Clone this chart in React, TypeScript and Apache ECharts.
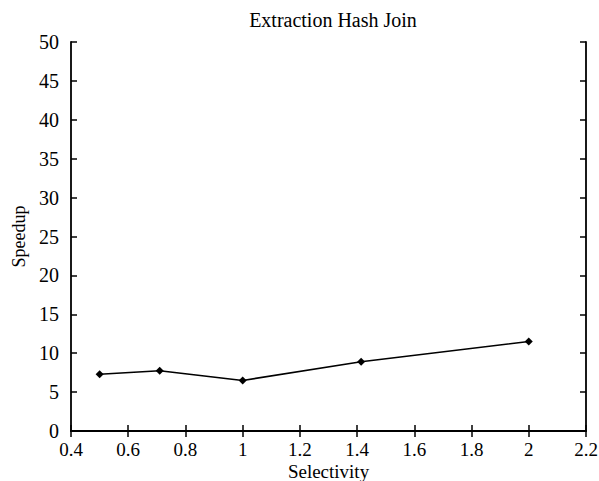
import React, { useEffect, useRef } from "react";
import * as echarts from "echarts";

const selectivity = [0.5, 0.71, 1.0, 1.414, 2.0];
const speedup = [7.3, 7.75, 6.5, 8.9, 11.5];
const titleText = "Extraction Hash Join";
const xName = "Selectivity";
const yName = "Speedup";

const FONT = "'Liberation Serif', 'DejaVu Serif', serif";

export default function App() {
  const ref = useRef<HTMLDivElement>(null);
  useEffect(() => {
    const chart = echarts.init(ref.current!, null, { renderer: "svg" });
    const fmt = (v: number) => String(+v.toFixed(1));
    const axisLine = { show: true, lineStyle: { color: "#000", width: 1.8 } };
    const axisTick = { show: true, inside: true, length: 6, lineStyle: { color: "#000", width: 1.5 } };
    chart.setOption({
      animation: false,
      backgroundColor: "#fff",
      title: {
        text: titleText,
        left: 328,
        textAlign: "center",
        top: 5,
        textStyle: { fontFamily: FONT, fontSize: 20, fontWeight: "normal", color: "#000" },
      },
      grid: { left: 71, right: 13, top: 42, bottom: 50, containLabel: false, outerBoundsMode: "none" },
      xAxis: [
        {
          type: "value",
          min: 0.4,
          max: 2.2,
          interval: 0.2,
          name: xName,
          nameLocation: "middle",
          nameGap: 31,
          nameMoveOverlap: false,
          nameTextStyle: { fontFamily: FONT, fontSize: 19, lineHeight: 18, color: "#000", verticalAlign: "top" },
          axisLine,
          axisTick,
          splitLine: { show: false },
          axisLabel: { formatter: fmt, fontFamily: FONT, fontSize: 19, lineHeight: 16, color: "#000", margin: 10 },
        },
        {
          type: "value",
          position: "top",
          min: 0.4,
          max: 2.2,
          interval: 0.2,
          axisLine,
          axisTick,
          splitLine: { show: false },
          axisLabel: { show: false },
        },
      ],
      yAxis: [
        {
          type: "value",
          min: 0,
          max: 50,
          interval: 5,
          name: yName,
          nameLocation: "middle",
          nameGap: 43,
          nameMoveOverlap: false,
          nameTextStyle: { fontFamily: FONT, fontSize: 18, color: "#000" },
          axisLine,
          axisTick,
          splitLine: { show: false },
          axisLabel: { fontFamily: FONT, fontSize: 20, color: "#000", margin: 12 },
        },
        {
          type: "value",
          position: "right",
          min: 0,
          max: 50,
          interval: 5,
          axisLine,
          axisTick,
          splitLine: { show: false },
          axisLabel: { show: false },
        },
      ],
      series: [
        {
          type: "line",
          data: selectivity.map((x, i) => [x, speedup[i]]),
          symbol: "diamond",
          symbolSize: 8,
          itemStyle: { color: "#000" },
          lineStyle: { color: "#000", width: 1.6 },
        },
      ],
    });
    return () => chart.dispose();
  }, []);
  return (
    <div
      ref={ref}
      style={{ position: "fixed", left: 0, top: 0, width: 599, height: 481 }}
    />
  );
}
